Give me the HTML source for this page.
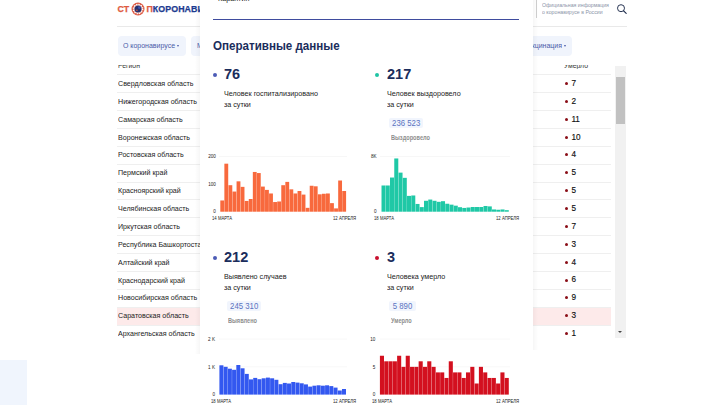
<!DOCTYPE html>
<html lang="ru"><head><meta charset="utf-8"><title>стопкоронавирус.рф</title>
<style>
*{margin:0;padding:0;box-sizing:border-box}
html,body{width:720px;height:405px;overflow:hidden;background:#fff}
body{font-family:"Liberation Sans",sans-serif;position:relative;color:#222}
.a{position:absolute;white-space:nowrap;transform-origin:0 0}
.logo{font-weight:bold;font-size:8.8px;line-height:10px;letter-spacing:0.12px;-webkit-text-stroke:0.25px currentColor}
.hl{height:1px;background:#e9e9e9}
.pill{background:#f0f4fc;border-radius:4px}
.ptx{color:#4a5aa8;font-size:7.6px;line-height:20.5px}
.tri{width:0;height:0;border-left:1.6px solid transparent;border-right:1.6px solid transparent;border-top:2.3px solid #4a5aa8}
.row{left:117px;width:494px;height:17.87px;border-top:1px solid #efefef;font-size:7.9px;line-height:17px;color:#222}
.row span{position:absolute;left:0.5px;top:-0.4px;transform:scaleX(.9);transform-origin:0 0}
.row b{position:absolute;left:454.4px;top:-0.5px;font-weight:normal;font-size:8.2px;color:#111;-webkit-text-stroke:0.15px #111}
.row i{position:absolute;left:447.6px;top:6.6px;width:3px;height:3px;border-radius:50%;background:#8a0e17}
.modal{left:200px;top:0;width:333px;height:405px;background:#fff}
.t{font-weight:bold;color:#1b2d5c}
.num{font-weight:bold;color:#1b2d5c;font-size:15.2px;line-height:16px;transform:scaleX(.955)}
.d{font-size:7.8px;line-height:10.7px;color:#222;transform:scaleX(.92)}
.dot{width:4px;height:4px;border-radius:50%}
.tot{background:#f1f5fd;border-radius:2px;color:#5b73c0;font-size:8.4px;line-height:11.2px;text-align:center}
.tot span{display:inline-block;transform:scaleX(.93)}
.lbl{font-size:6.4px;line-height:8px;color:#8e8e8e;font-weight:bold;transform:scaleX(.88)}
.ax{font-size:4.6px;line-height:6px;color:#222}
.axd{transform:scaleX(.92)}
.axr{text-align:right;width:12px}
</style></head><body>

<div class="a logo" style="left:117.5px;top:4px;color:#de5a40">СТ</div>
<svg class="a" style="left:130.8px;top:1.7px" width="14" height="14" viewBox="0 0 14 14"><circle cx="7" cy="7" r="6.5" fill="#dd5b45"/><circle cx="7" cy="7" r="4.7" fill="#f3c9c2"/><circle cx="7" cy="7" r="4.7" fill="none" stroke="#fff" stroke-width="1.3" stroke-dasharray="1.1 1.36"/><circle cx="7" cy="7.1" r="3.5" fill="#27316f"/><circle cx="8.3" cy="5.6" r="1.3" fill="#3d55b0"/><circle cx="5.9" cy="8.3" r="0.8" fill="#d9533f"/></svg>
<div class="a logo" style="left:146.4px;top:4px;color:#de5a40">П<span style="color:#1c3a90">КОРОНАВИРУС</span></div>
<div class="a hl" style="left:117px;top:26px;width:510px"></div>
<div class="a" style="left:536px;top:0;width:1px;height:18.3px;background:#cfcfcf"></div>
<div class="a" style="left:542px;top:1.5px;font-size:5.9px;line-height:7.7px;color:#8b93a7;transform:scaleX(.885)">Официальная информация<br>о коронавирусе в России</div>
<svg class="a" style="left:616px;top:3px" width="12" height="12" viewBox="0 0 12 12"><circle cx="5" cy="5.2" r="3.5" fill="none" stroke="#1c2a4a" stroke-width="0.95"/><line x1="7.6" y1="7.8" x2="10.2" y2="10.4" stroke="#1c2a4a" stroke-width="1.1" stroke-linecap="round"/></svg>
<div class="a pill" style="left:118px;top:36px;width:68px;height:20.2px"></div>
<div class="a pill" style="left:191.2px;top:36px;width:120px;height:20.2px"></div>
<div class="a pill" style="left:480px;top:36px;width:92.4px;height:20.2px"></div>
<div class="a ptx" style="left:123.2px;top:36px;transform:scaleX(.918)">О коронавирусе</div>
<div class="a ptx" style="left:196.6px;top:36px;transform:scaleX(.918)">Меры</div>
<div class="a ptx" style="left:500px;top:36px;width:62px;text-align:right;transform-origin:100% 0;transform:scaleX(.918)">Вакцинация</div>
<div class="a tri" style="left:177.4px;top:45.4px"></div>
<div class="a tri" style="left:564.2px;top:45.4px"></div>
<div class="a" style="left:117px;top:64.8px;width:495px;height:4.2px;overflow:hidden"><div class="a" style="left:0.5px;top:-4.2px;font-size:7.6px;line-height:9px;color:#333;transform:scaleX(.9)">Регион</div><div class="a" style="left:446.8px;top:-4.2px;font-size:7.6px;line-height:9px;color:#333;transform:scaleX(.9)">Умерло</div></div>
<div class="a row" style="top:74.40px;"><span>Свердловская область</span><i></i><b>7</b></div>
<div class="a row" style="top:92.27px;"><span>Нижегородская область</span><i></i><b>2</b></div>
<div class="a row" style="top:110.14px;"><span>Самарская область</span><i></i><b>11</b></div>
<div class="a row" style="top:128.01px;"><span>Воронежская область</span><i></i><b>10</b></div>
<div class="a row" style="top:145.88px;"><span>Ростовская область</span><i></i><b>4</b></div>
<div class="a row" style="top:163.75px;"><span>Пермский край</span><i></i><b>5</b></div>
<div class="a row" style="top:181.62px;"><span>Красноярский край</span><i></i><b>5</b></div>
<div class="a row" style="top:199.49px;"><span>Челябинская область</span><i></i><b>5</b></div>
<div class="a row" style="top:217.36px;"><span>Иркутская область</span><i></i><b>7</b></div>
<div class="a row" style="top:235.23px;"><span>Республика Башкортостан</span><i></i><b>3</b></div>
<div class="a row" style="top:253.10px;"><span>Алтайский край</span><i></i><b>4</b></div>
<div class="a row" style="top:270.97px;"><span>Краснодарский край</span><i></i><b>6</b></div>
<div class="a row" style="top:288.84px;"><span>Новосибирская область</span><i></i><b>9</b></div>
<div class="a row" style="top:306.71px;background:#fdeaea;"><span>Саратовская область</span><i></i><b>3</b></div>
<div class="a row" style="top:324.58px;"><span>Архангельская область</span><i></i><b>1</b></div>
<div class="a" style="left:615.2px;top:66px;width:10.4px;height:272px;background:#f1f1f1"></div>
<div class="a" style="left:616.4px;top:77.4px;width:8.4px;height:47px;background:#c1c1c1"></div>
<div class="a" style="left:618px;top:331.4px;width:0;height:0;border-left:2.6px solid transparent;border-right:2.6px solid transparent;border-top:2.9px solid #454545"></div>
<div class="a" style="left:0;top:360px;width:27.3px;height:45px;background:#f0f5fd"></div>
<div class="a" style="left:195px;top:0;width:5px;height:354px;background:linear-gradient(90deg,rgba(0,0,0,0),rgba(0,0,0,.035))"></div>
<div class="a" style="left:533px;top:0;width:5px;height:350px;background:linear-gradient(270deg,rgba(0,0,0,0),rgba(0,0,0,.035))"></div>
<div class="a modal">
<div class="a" style="left:17.8px;top:-5.9px;font-size:7.8px;line-height:9px;color:#222;transform:scaleX(.92)">Карантин</div>
<div class="a" style="left:12.8px;top:18.6px;width:306.6px;height:1.5px;background:#3f4c9e"></div>
<div class="a t" style="left:13px;top:37.7px;font-size:13.1px;line-height:16px;transform:scaleX(.885)">Оперативные данные</div>
</div>
<div class="a dot" style="left:213.0px;top:72.9px;background:#4c5cb6"></div><div class="a num" style="left:224.2px;top:66.2px">76</div><div class="a d" style="left:224.2px;top:89.3px">Человек госпитализировано<br>за сутки</div>
<div class="a dot" style="left:375.4px;top:72.9px;background:#1fc4a4"></div><div class="a num" style="left:386.6px;top:66.2px">217</div><div class="a d" style="left:386.6px;top:89.3px">Человек выздоровело<br>за сутки</div><div class="a tot" style="left:389.3px;top:118.1px;width:34px;height:10px"><span>236 523</span></div><div class="a lbl" style="left:390.8px;top:134.0px">Выздоровело</div>
<div class="a dot" style="left:213.0px;top:256.0px;background:#4c5cb6"></div><div class="a num" style="left:224.2px;top:249.3px">212</div><div class="a d" style="left:224.2px;top:272.4px">Выявлено случаев<br>за сутки</div><div class="a tot" style="left:227.0px;top:301.2px;width:33.6px;height:10px"><span>245 310</span></div><div class="a lbl" style="left:228.4px;top:317.1px">Выявлено</div>
<div class="a dot" style="left:375.4px;top:256.0px;background:#c8102e"></div><div class="a num" style="left:386.6px;top:249.3px">3</div><div class="a d" style="left:386.6px;top:272.4px">Человека умерло<br>за сутки</div><div class="a tot" style="left:388.9px;top:301.2px;width:27.2px;height:10px"><span>5 890</span></div><div class="a lbl" style="left:390.8px;top:317.1px">Умерло</div>
<svg class="a" style="left:0;top:0" width="720" height="405" viewBox="0 0 720 405" shape-rendering="geometricPrecision"><g stroke="#f1f1f1" stroke-width="0.6"><line x1="219" x2="347" y1="156.5" y2="156.5"/><line x1="380" x2="510" y1="156.5" y2="156.5"/><line x1="219" x2="347" y1="339.1" y2="339.1"/><line x1="219" x2="347" y1="366.8" y2="366.8"/><line x1="380" x2="510" y1="339.1" y2="339.1"/><line x1="380" x2="510" y1="366.8" y2="366.8"/></g><g fill="#f8693d"><rect x="220.31" y="200.47" width="3.84" height="11.23"/><rect x="224.37" y="163.68" width="3.84" height="48.02"/><rect x="228.44" y="185.20" width="3.84" height="26.50"/><rect x="232.50" y="191.55" width="3.84" height="20.15"/><rect x="236.57" y="181.34" width="3.84" height="30.36"/><rect x="240.63" y="186.86" width="3.84" height="24.84"/><rect x="244.70" y="200.94" width="3.84" height="10.76"/><rect x="248.76" y="199.00" width="3.84" height="12.70"/><rect x="252.83" y="171.96" width="3.84" height="39.74"/><rect x="256.89" y="173.06" width="3.84" height="38.64"/><rect x="260.96" y="186.58" width="3.84" height="25.12"/><rect x="265.02" y="189.90" width="3.84" height="21.80"/><rect x="269.08" y="193.48" width="3.84" height="18.22"/><rect x="273.15" y="202.04" width="3.84" height="9.66"/><rect x="277.21" y="201.49" width="3.84" height="10.21"/><rect x="281.28" y="185.20" width="3.84" height="26.50"/><rect x="285.34" y="181.89" width="3.84" height="29.81"/><rect x="289.41" y="189.34" width="3.84" height="22.36"/><rect x="293.47" y="193.48" width="3.84" height="18.22"/><rect x="297.54" y="191.00" width="3.84" height="20.70"/><rect x="301.60" y="194.59" width="3.84" height="17.11"/><rect x="305.66" y="207.84" width="3.84" height="3.86"/><rect x="309.73" y="185.76" width="3.84" height="25.94"/><rect x="313.79" y="186.31" width="3.84" height="25.39"/><rect x="317.86" y="194.31" width="3.84" height="17.39"/><rect x="321.92" y="193.76" width="3.84" height="17.94"/><rect x="325.99" y="193.48" width="3.84" height="18.22"/><rect x="330.05" y="203.14" width="3.84" height="8.56"/><rect x="334.12" y="208.39" width="3.84" height="3.31"/><rect x="338.18" y="180.51" width="3.84" height="31.19"/><rect x="342.25" y="191.00" width="3.84" height="20.70"/></g><g fill="#1fc8a6"><rect x="381.51" y="185.49" width="4.03" height="26.21"/><rect x="385.76" y="185.49" width="4.03" height="26.21"/><rect x="390.01" y="177.53" width="4.03" height="34.17"/><rect x="394.26" y="158.46" width="4.03" height="53.24"/><rect x="398.51" y="172.63" width="4.03" height="39.07"/><rect x="402.76" y="177.84" width="4.03" height="33.86"/><rect x="407.01" y="195.89" width="4.03" height="15.81"/><rect x="411.26" y="195.48" width="4.03" height="16.22"/><rect x="415.51" y="203.95" width="4.03" height="7.75"/><rect x="419.76" y="207.11" width="4.03" height="4.59"/><rect x="424.01" y="200.79" width="4.03" height="10.91"/><rect x="428.26" y="199.56" width="4.03" height="12.14"/><rect x="432.51" y="200.79" width="4.03" height="10.91"/><rect x="436.76" y="201.81" width="4.03" height="9.89"/><rect x="441.01" y="201.19" width="4.03" height="10.51"/><rect x="445.26" y="203.74" width="4.03" height="7.96"/><rect x="449.51" y="204.66" width="4.03" height="7.04"/><rect x="453.76" y="205.68" width="4.03" height="6.02"/><rect x="458.01" y="207.21" width="4.03" height="4.49"/><rect x="462.26" y="207.93" width="4.03" height="3.77"/><rect x="466.51" y="207.52" width="4.03" height="4.18"/><rect x="470.76" y="207.01" width="4.03" height="4.69"/><rect x="475.01" y="207.01" width="4.03" height="4.69"/><rect x="479.26" y="207.01" width="4.03" height="4.69"/><rect x="483.51" y="205.99" width="4.03" height="5.71"/><rect x="487.76" y="206.40" width="4.03" height="5.30"/><rect x="492.01" y="209.46" width="4.03" height="2.24"/><rect x="496.26" y="209.76" width="4.03" height="1.94"/><rect x="500.51" y="209.46" width="4.03" height="2.24"/><rect x="504.76" y="210.17" width="4.03" height="1.53"/></g><g fill="#3358f0"><rect x="219.41" y="365.30" width="4.01" height="29.30"/><rect x="223.64" y="366.80" width="4.01" height="27.80"/><rect x="227.86" y="368.70" width="4.01" height="25.90"/><rect x="232.09" y="369.80" width="4.01" height="24.80"/><rect x="236.32" y="365.00" width="4.01" height="29.60"/><rect x="240.54" y="368.30" width="4.01" height="26.30"/><rect x="244.77" y="373.90" width="4.01" height="20.70"/><rect x="249.00" y="379.40" width="4.01" height="15.20"/><rect x="253.22" y="377.90" width="4.01" height="16.70"/><rect x="257.45" y="379.20" width="4.01" height="15.40"/><rect x="261.68" y="378.30" width="4.01" height="16.30"/><rect x="265.90" y="377.60" width="4.01" height="17.00"/><rect x="270.13" y="378.30" width="4.01" height="16.30"/><rect x="274.36" y="379.80" width="4.01" height="14.80"/><rect x="278.58" y="384.20" width="4.01" height="10.40"/><rect x="282.81" y="382.90" width="4.01" height="11.70"/><rect x="287.04" y="383.50" width="4.01" height="11.10"/><rect x="291.26" y="382.00" width="4.01" height="12.60"/><rect x="295.49" y="382.60" width="4.01" height="12.00"/><rect x="299.72" y="383.30" width="4.01" height="11.30"/><rect x="303.94" y="384.40" width="4.01" height="10.20"/><rect x="308.17" y="386.60" width="4.01" height="8.00"/><rect x="312.40" y="385.70" width="4.01" height="8.90"/><rect x="316.62" y="385.30" width="4.01" height="9.30"/><rect x="320.85" y="385.70" width="4.01" height="8.90"/><rect x="325.08" y="385.30" width="4.01" height="9.30"/><rect x="329.30" y="386.10" width="4.01" height="8.50"/><rect x="333.53" y="387.60" width="4.01" height="7.00"/><rect x="337.76" y="390.50" width="4.01" height="4.10"/><rect x="341.98" y="389.00" width="4.01" height="5.60"/></g><g fill="#d3101f"><rect x="379.91" y="355.75" width="4.08" height="38.85"/><rect x="384.21" y="361.30" width="4.08" height="33.30"/><rect x="388.52" y="361.30" width="4.08" height="33.30"/><rect x="392.82" y="361.30" width="4.08" height="33.30"/><rect x="397.12" y="355.75" width="4.08" height="38.85"/><rect x="401.43" y="366.85" width="4.08" height="27.75"/><rect x="405.73" y="355.75" width="4.08" height="38.85"/><rect x="410.03" y="366.85" width="4.08" height="27.75"/><rect x="414.34" y="366.85" width="4.08" height="27.75"/><rect x="418.64" y="361.30" width="4.08" height="33.30"/><rect x="422.94" y="366.85" width="4.08" height="27.75"/><rect x="427.25" y="361.30" width="4.08" height="33.30"/><rect x="431.55" y="366.85" width="4.08" height="27.75"/><rect x="435.85" y="372.40" width="4.08" height="22.20"/><rect x="440.16" y="372.40" width="4.08" height="22.20"/><rect x="444.46" y="377.95" width="4.08" height="16.65"/><rect x="448.76" y="361.30" width="4.08" height="33.30"/><rect x="453.07" y="372.40" width="4.08" height="22.20"/><rect x="457.37" y="372.40" width="4.08" height="22.20"/><rect x="461.67" y="377.95" width="4.08" height="16.65"/><rect x="465.98" y="372.40" width="4.08" height="22.20"/><rect x="470.28" y="366.85" width="4.08" height="27.75"/><rect x="474.58" y="383.50" width="4.08" height="11.10"/><rect x="478.89" y="366.85" width="4.08" height="27.75"/><rect x="483.19" y="372.40" width="4.08" height="22.20"/><rect x="487.49" y="377.95" width="4.08" height="16.65"/><rect x="491.80" y="377.95" width="4.08" height="16.65"/><rect x="496.10" y="383.50" width="4.08" height="11.10"/><rect x="500.40" y="372.40" width="4.08" height="22.20"/><rect x="504.71" y="377.95" width="4.08" height="16.65"/></g></svg>
<div class="a ax axr" style="left:203.8px;top:154.0px">200</div><div class="a ax axr" style="left:203.8px;top:182.1px">100</div><div class="a ax axr" style="left:203.8px;top:209.1px">0</div><div class="a ax axd" style="left:212.2px;top:215.6px">14 МАРТА</div><div class="a ax axd" style="left:333.4px;top:215.6px">12 АПРЕЛЯ</div>
<div class="a ax axr" style="left:364.6px;top:154.0px">8K</div><div class="a ax axr" style="left:364.6px;top:182.1px"></div><div class="a ax axr" style="left:364.6px;top:209.1px">0</div><div class="a ax axd" style="left:374.2px;top:215.6px">18 МАРТА</div><div class="a ax axd" style="left:496.2px;top:215.6px">12 АПРЕЛЯ</div>
<div class="a ax axr" style="left:203.0px;top:337.0px">2 K</div><div class="a ax axr" style="left:203.0px;top:364.6px">1 K</div><div class="a ax axr" style="left:203.0px;top:392.3px">0</div><div class="a ax axd" style="left:211.3px;top:398.8px">18 МАРТА</div><div class="a ax axd" style="left:333.4px;top:398.8px">12 АПРЕЛЯ</div>
<div class="a ax axr" style="left:363.3px;top:337.0px">10</div><div class="a ax axr" style="left:363.3px;top:364.6px">5</div><div class="a ax axr" style="left:363.3px;top:392.3px">0</div><div class="a ax axd" style="left:372.1px;top:398.8px">18 МАРТА</div><div class="a ax axd" style="left:496.2px;top:398.8px">12 АПРЕЛЯ</div>
</body></html>
